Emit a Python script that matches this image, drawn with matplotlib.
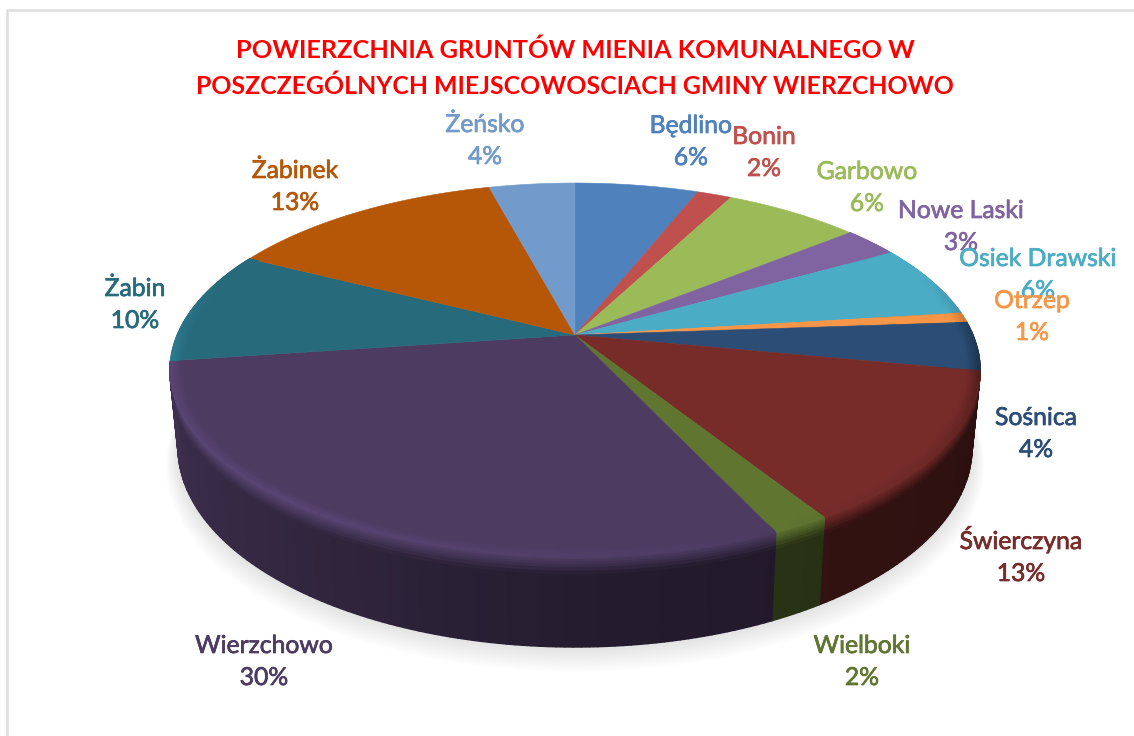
"""3D-style pie of communal land area per village, gmina Wierzchowo."""

import matplotlib

matplotlib.use("Agg")
import matplotlib.patheffects as pe
import matplotlib.pyplot as plt
import numpy as np
from matplotlib.collections import PolyCollection
from matplotlib.colors import to_rgb
from matplotlib.patches import Polygon

W, H = 1134, 736

VILLAGES = [
    "Będlino", "Bonin", "Garbowo", "Nowe Laski", "Osiek Drawski", "Otrzep", "Sośnica",
    "Świerczyna", "Wielboki", "Wierzchowo", "Żabin", "Żabinek", "Żeńsko",
]
# wedge sizes (the printed labels are rounded)
SHARES = [5.9, 1.65, 6.5, 2.65, 6.3, 0.85, 4.2, 13.1, 1.95, 29.65, 9.8, 13.3, 4.1]
PERCENT_LABELS = ["6%", "2%", "6%", "3%", "6%", "1%", "4%", "13%", "2%", "30%", "10%", "13%", "4%"]

COLORS = [
    "#4F81BD", "#C0504D", "#9BBB59", "#8064A2", "#4BACC6", "#F79646", "#2C4D75",
    "#772C2A", "#5F7530", "#4D3B62", "#276A7C", "#B65708", "#729ACA",
]
TITLE_LINES = [
    "POWIERZCHNIA GRUNTÓW MIENIA KOMUNALNEGO W",
    "POSZCZEGÓLNYCH MIEJSCOWOSCIACH GMINY WIERZCHOWO",
]

# label anchors: centre x, baseline of the first line (pixels)
LABEL_X = [691, 764, 867, 961, 1038, 1032, 1036, 1021, 862, 264, 135, 295, 485]
LABEL_Y = [133, 144, 179, 218, 266, 308, 425, 549, 653, 653, 296, 178, 132]
LINE_GAP = 32

FONT = "Lato"

# perspective disc: top face and (further away) bottom face
CX = 575
TOP_CY, TOP_A, TOP_B = 335, 398, 180.4
BASE_CY, BASE_A, BASE_B = 410, 390, 192.7
K = 0.187
WALL_END = 262  # clock angle past which the wall is hidden behind the top


def project(theta, cy, a, b, r=1.0):
    """Disc point at clock angle theta (radians, 0 = up, clockwise) to pixels."""
    X = r * np.sin(theta)
    Y = r * np.cos(theta)
    w = 1 + K * Y
    return CX + a * X / w, cy - b * Y / w


def side_factor(deg):
    """How dark the side wall is, by clock angle."""
    return np.interp(deg, [60, 100, 150, 180, 220, 270], [0.3, 0.36, 0.42, 0.48, 0.66, 0.84])


def bevel_gain(deg):
    """Light (or dark, on the far right) rim along the edge of the top."""
    return np.interp(deg, [70, 100, 125, 170, 215, 262, 290], [0.0, -0.35, -0.1, 0.05, 0.18, 0.18, 0.0])


def draw_shadow(ax):
    theta = np.linspace(0, 2 * np.pi, 240)
    for i in range(1, 15):
        s = 1 + 0.0022 * (15 - i)
        x, y = project(theta, BASE_CY + 1.25 * (15 - i), BASE_A * s, BASE_B * s)
        ax.add_patch(Polygon(np.column_stack([x, y]), fc="black", ec="none", alpha=0.0095, zorder=1))


def draw_side(ax, edges):
    polys, cols = [], []
    steps = np.array([0, 0.03, 0.06, 0.09, 0.12, 0.16, 0.2, 1.0])
    for i, c in enumerate(COLORS):
        lo, hi = edges[i], min(edges[i + 1], WALL_END)
        if hi < 55 or lo >= hi:
            continue
        rgb = np.array(to_rgb(c))
        degs = np.arange(lo, hi + 1.0, 1.0)
        degs[-1] = hi
        for d0, d1 in zip(degs[:-1], degs[1:]):
            t0, t1 = np.radians([d0, d1])
            top0, top1 = project(t0, TOP_CY, TOP_A, TOP_B), project(t1, TOP_CY, TOP_A, TOP_B)
            bot0, bot1 = project(t0, BASE_CY, BASE_A, BASE_B), project(t1, BASE_CY, BASE_A, BASE_B)
            mid = 0.5 * (d0 + d1)
            f = side_factor(mid)
            start = 1 + bevel_gain(mid) * 0.9
            for s0, s1 in zip(steps[:-1], steps[1:]):
                p = [
                    (top0[0] + s0 * (bot0[0] - top0[0]), top0[1] + s0 * (bot0[1] - top0[1])),
                    (top1[0] + s0 * (bot1[0] - top1[0]), top1[1] + s0 * (bot1[1] - top1[1])),
                    (top1[0] + s1 * (bot1[0] - top1[0]), top1[1] + s1 * (bot1[1] - top1[1])),
                    (top0[0] + s1 * (bot0[0] - top0[0]), top0[1] + s1 * (bot0[1] - top0[1])),
                ]
                m = np.clip(0.5 * (s0 + s1) / 0.2, 0, 1)
                polys.append(p)
                cols.append(np.clip(rgb * (start + (f - start) * m), 0, 1))
    ax.add_collection(PolyCollection(polys, facecolors=cols, edgecolors=cols, linewidths=1.0, zorder=2))


def draw_top(ax, edges):
    for i, c in enumerate(COLORS):
        t = np.radians(np.linspace(edges[i], edges[i + 1], 120))
        x, y = project(t, TOP_CY, TOP_A, TOP_B)
        pts = np.column_stack([np.r_[CX, x], np.r_[TOP_CY, y]])
        ax.add_patch(Polygon(pts, fc=c, ec=c, lw=0.4, zorder=3))

    # band just inside the rim: light on the front-left, dark on the right
    radii = np.linspace(0.968, 1.0, 6)
    polys, cols = [], []
    for i, c in enumerate(COLORS):
        lo, hi = edges[i], edges[i + 1]
        if hi < 70 or lo > 290:
            continue
        rgb = np.array(to_rgb(c))
        degs = np.arange(lo, hi + 1.0, 1.0)
        degs[-1] = hi
        for d0, d1 in zip(degs[:-1], degs[1:]):
            t0, t1 = np.radians([d0, d1])
            g = bevel_gain(0.5 * (d0 + d1))
            for r0, r1 in zip(radii[:-1], radii[1:]):
                p = [
                    project(t0, TOP_CY, TOP_A, TOP_B, r0),
                    project(t1, TOP_CY, TOP_A, TOP_B, r0),
                    project(t1, TOP_CY, TOP_A, TOP_B, r1),
                    project(t0, TOP_CY, TOP_A, TOP_B, r1),
                ]
                m = (0.5 * (r0 + r1) - radii[0]) / (radii[-1] - radii[0])
                polys.append(p)
                cols.append(np.clip(rgb * (1 + g * m), 0, 1))
    ax.add_collection(PolyCollection(polys, facecolors=cols, edgecolors=cols, linewidths=0.7, zorder=4))


def main():
    fig = plt.figure(figsize=(W / 100, H / 100), dpi=100, facecolor="white")
    ax = fig.add_axes([0, 0, 1, 1])
    ax.set_xlim(0, W)
    ax.set_ylim(H, 0)
    ax.axis("off")

    # grey chart frame, only its top and left show in the crop
    ax.plot([7, 7, W], [H, 10, 10], color="#dedede", lw=1.8, zorder=0)

    shares = np.array(SHARES)
    edges = np.r_[0, np.cumsum(shares)] / shares.sum() * 360

    draw_shadow(ax)
    draw_side(ax, edges)
    draw_top(ax, edges)

    for line, y, size in zip(TITLE_LINES, [58, 94], [18.3, 17.9]):
        ax.text(575, y, line, color="#FF0000", fontsize=size, fontweight="bold",
                family=FONT, ha="center", va="baseline", zorder=6)

    for name, pct, c, x, y in zip(VILLAGES, PERCENT_LABELS, COLORS, LABEL_X, LABEL_Y):
        for txt, yy in ((name, y), (pct, y + LINE_GAP)):
            t = ax.text(x, yy, txt, color=c, fontsize=17.8, family=FONT,
                        ha="center", va="baseline", zorder=6)
            t.set_path_effects([pe.withStroke(linewidth=0.5, foreground=c)])

    fig.savefig("out.png", dpi=100)


if __name__ == "__main__":
    main()
